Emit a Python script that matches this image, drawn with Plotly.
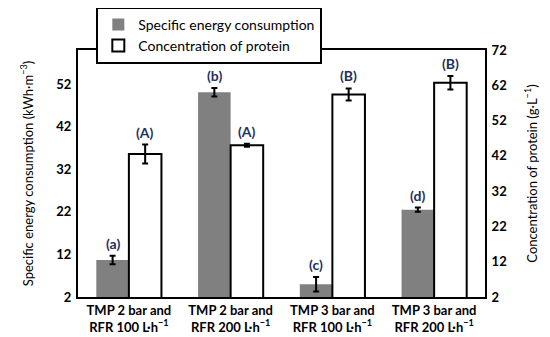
import plotly.graph_objects as go

categories = ["TMP 2 bar and<br>RFR 100 L·h<sup>−1</sup>",
              "TMP 2 bar and<br>RFR 200 L·h<sup>−1</sup>",
              "TMP 3 bar and<br>RFR 100 L·h<sup>−1</sup>",
              "TMP 3 bar and<br>RFR 200 L·h<sup>−1</sup>"]
energy = [10.7, 50.1, 5.0, 22.5]
energy_err = [1.0, 1.0, 1.7, 0.5]
protein = [42.5, 45.0, 59.4, 62.7]
protein_err = [2.7, 0.4, 1.7, 1.9]
energy_letters = ["(a)", "(b)", "(c)", "(d)"]
protein_letters = ["(A)", "(A)", "(B)", "(B)"]
left_ticks = [2, 12, 22, 32, 42, 52]
right_ticks = [2, 12, 22, 32, 42, 52, 62, 72]

FONT = "Lato"
BW = 0.32

fig = go.Figure()
fig.add_trace(go.Bar(
    x=categories, y=energy, name="Specific energy consumption",
    marker=dict(color="#808080", line=dict(width=0)),
    width=BW, offset=-BW,
    error_y=dict(type="data", array=energy_err, color="black", thickness=2, width=3),
    yaxis="y"))
fig.add_trace(go.Bar(
    x=categories, y=protein, name="Concentration of protein",
    marker=dict(color="white", line=dict(color="black", width=2)),
    width=BW, offset=0,
    error_y=dict(type="data", array=protein_err, color="black", thickness=2, width=3),
    yaxis="y2"))

annotations = []
for i in range(len(categories)):
    annotations.append(dict(x=i - BW / 2, y=energy[i] + energy_err[i], xref="x", yref="y",
                            text="<b>" + energy_letters[i] + "</b>", showarrow=False,
                            yanchor="bottom", yshift=2,
                            font=dict(family=FONT, size=14, color="#1f3060")))
    annotations.append(dict(x=i + BW / 2, y=protein[i] + protein_err[i], xref="x", yref="y2",
                            text="<b>" + protein_letters[i] + "</b>", showarrow=False,
                            yanchor="bottom", yshift=2,
                            font=dict(family=FONT, size=14, color="#1f3060")))

fig.update_layout(
    width=550, height=337,
    margin=dict(l=70, r=73, t=42, b=48, autoexpand=False),
    paper_bgcolor="white", plot_bgcolor="white",
    barmode="overlay",
    font=dict(family=FONT, size=13, color="black"),
    showlegend=True,
    legend=dict(x=0.045, y=1.175, xanchor="left", yanchor="top",
                bgcolor="white", bordercolor="black", borderwidth=2,
                font=dict(family=FONT, size=14, color="black"),
                tracegroupgap=0),
    xaxis=dict(type="category", showline=True, linecolor="black", linewidth=2,
               mirror=True, showgrid=False, ticks="", automargin=False,
               tickfont=dict(family=FONT, size=13, color="black", weight="bold"),
               range=[-0.5, 3.5]),
    yaxis=dict(range=[2, 60], tickvals=left_ticks, showline=True, linecolor="black",
               linewidth=2, showgrid=False, zeroline=False, ticks="", automargin=False,
               ticklabelstandoff=2,
               tickfont=dict(family=FONT, size=13, color="black", weight="bold"),
               title=dict(text="Specific energy consumption (kWh·m<sup>−3</sup>)",
                          font=dict(family=FONT, size=13, color="black"), standoff=20)),
    yaxis2=dict(range=[2, 72], tickvals=right_ticks, overlaying="y", side="right",
                showline=True, linecolor="black", linewidth=2, showgrid=False,
                zeroline=False, ticks="", ticklabelstandoff=2, automargin=False,
                tickfont=dict(family=FONT, size=13, color="black", weight="bold"),
                title=dict(text="Concentration of protein (g·L<sup>−1</sup>)",
                           font=dict(family=FONT, size=13, color="black"), standoff=22)),
    annotations=annotations,
)

fig.write_html("out.html")
